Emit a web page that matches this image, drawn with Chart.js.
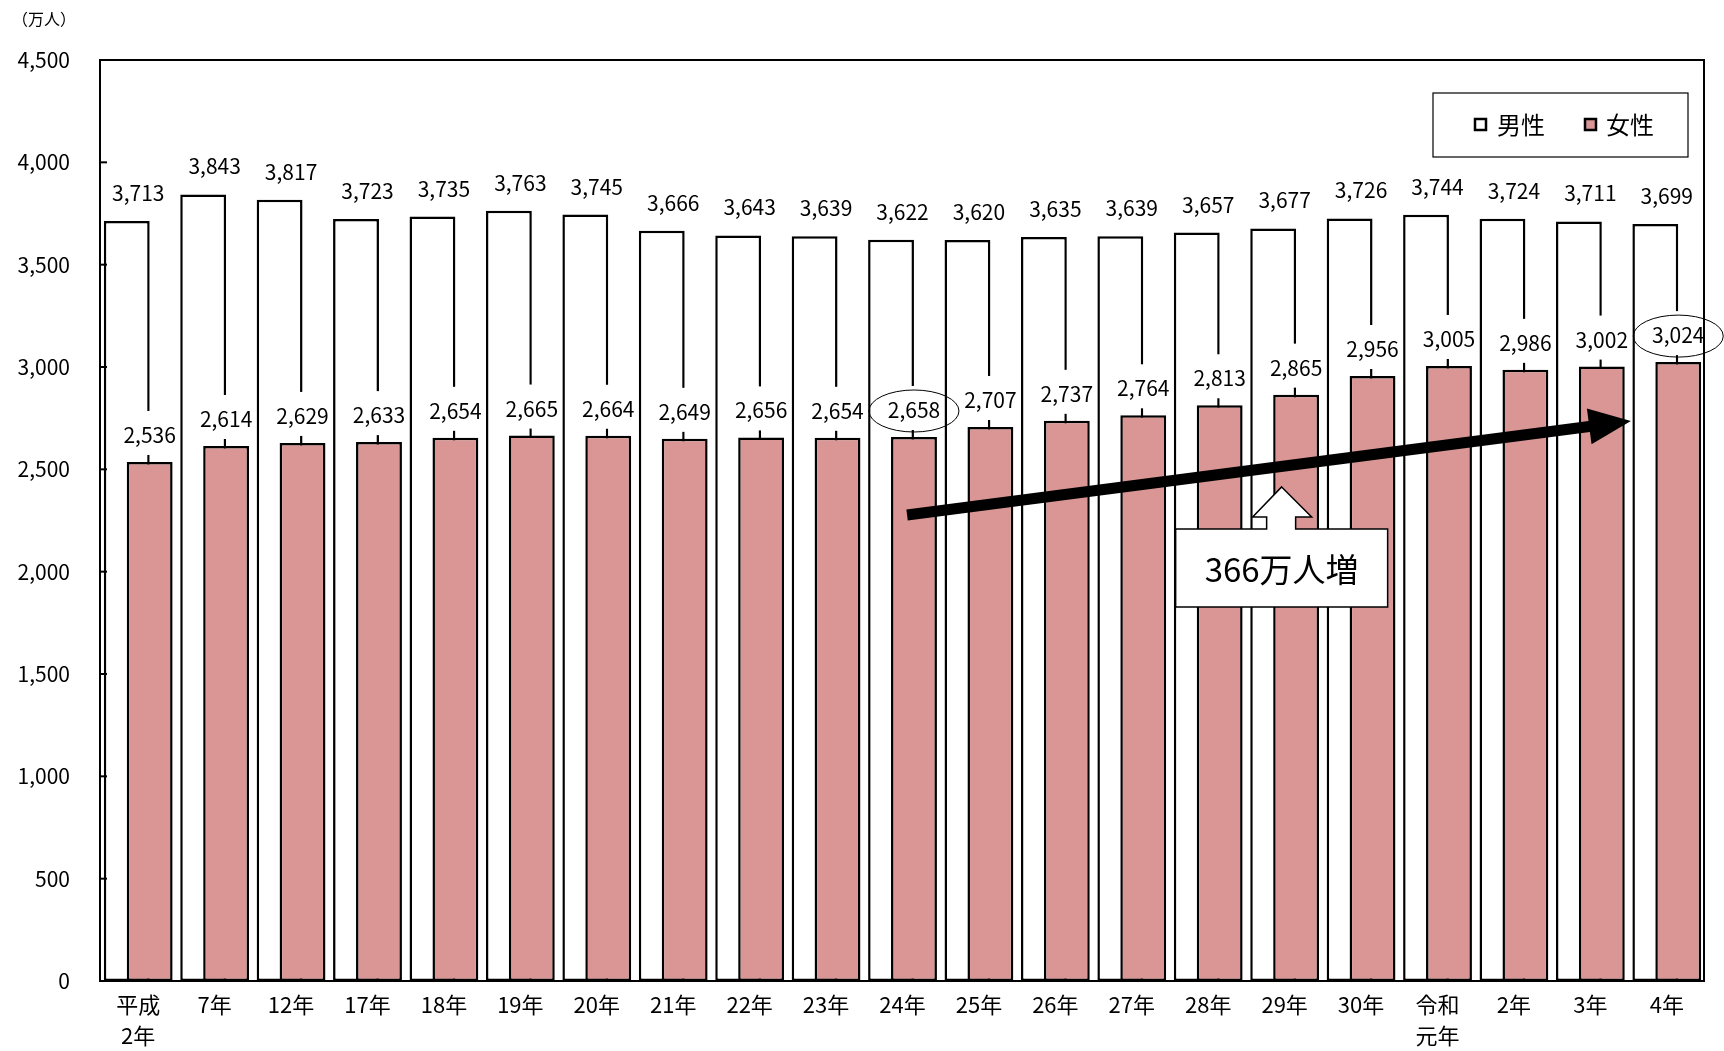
<!DOCTYPE html>
<html lang="ja">
<head>
<meta charset="UTF-8" />
<title>男女別人口</title>
<script src="https://cdn.jsdelivr.net/npm/chart.js"></script>
<style>
  html, body { margin: 0; padding: 0; background: #fff; }
  #wrap { width: 1724px; height: 1051px; position: relative; }
</style>
</head>
<body>
<div id="wrap"><canvas id="chart" width="1724" height="1051"></canvas></div>
<script>
// data (万人)
const categories = [['平成', '2年'], '7年', '12年', '17年', '18年', '19年', '20年', '21年', '22年', '23年',
    '24年', '25年', '26年', '27年', '28年', '29年', '30年', ['令和', '元年'], '2年', '3年', '4年'];
const male = [3713, 3843, 3817, 3723, 3735, 3763, 3745, 3666, 3643, 3639, 3622,
    3620, 3635, 3639, 3657, 3677, 3726, 3744, 3724, 3711, 3699];
const female = [2536, 2614, 2629, 2633, 2654, 2665, 2664, 2649, 2656, 2654, 2658,
    2707, 2737, 2764, 2813, 2865, 2956, 3005, 2986, 3002, 3024];
const circled = [10, 20];
const seriesNames = ['男性', '女性'];
const increaseText = '366万人増';

const FONT = "'Noto Sans CJK JP', 'Noto Sans', sans-serif";
const PINK = '#D99694';
const SHIFT = 0.15; // half overlap of the two bars

Chart.defaults.font.family = FONT;
Chart.defaults.color = '#000';

const fmt = (v) => v.toLocaleString('en-US');

const decor = {
    id: 'decor',
    afterDatasetsDraw(chart) {
        const { ctx, chartArea: a, scales } = chart;
        const xs = scales.xb, ys = scales.y;
        ctx.save();

        ctx.font = '21px ' + FONT;
        ctx.textAlign = 'center';
        ctx.textBaseline = 'alphabetic';
        ctx.fillStyle = '#000';

        // male labels, centred over the category
        male.forEach((v, i) => {
            const x = xs.getPixelForValue(i);
            const y = ys.getPixelForValue(v) - 20;
            ctx.fillText(fmt(v), x, y);
        });
        // female labels with white backing (cuts the male bar edge)
        female.forEach((v, i) => {
            const x = xs.getPixelForValue(i + SHIFT);
            const y = ys.getPixelForValue(v) - 19;
            const w = ctx.measureText(fmt(v)).width;
            ctx.fillStyle = '#fff';
            ctx.fillRect(x - w / 2 - 3, y - 32, w + 6, 44);
            ctx.fillStyle = '#000';
            ctx.fillText(fmt(v), x, y);
        });

        // plot frame + inner ticks
        ctx.strokeStyle = '#000';
        ctx.lineWidth = 2;
        ctx.strokeRect(a.left, a.top, a.right - a.left - 1, a.bottom - a.top);
        ys.ticks.forEach((t) => {
            const y = ys.getPixelForValue(t.value);
            ctx.beginPath();
            ctx.moveTo(a.left, y);
            ctx.lineTo(a.left + 7, y);
            ctx.stroke();
        });

        // ellipses around highlighted values
        ctx.lineWidth = 1;
        circled.forEach((i) => {
            const x = xs.getPixelForValue(i + SHIFT);
            const y = ys.getPixelForValue(female[i]) - 26;
            ctx.beginPath();
            ctx.ellipse(x, y, 45, 21, 0, 0, Math.PI * 2);
            ctx.stroke();
        });

        // big trend arrow
        const x1 = xs.getPixelForValue(10.06), y1 = ys.getPixelForValue(2277);
        const x2 = xs.getPixelForValue(19.53), y2 = ys.getPixelForValue(2736);
        const ang = Math.atan2(y2 - y1, x2 - x1);
        const headLen = 42, headHalf = 18;
        const bx = x2 - headLen * Math.cos(ang), by = y2 - headLen * Math.sin(ang);
        ctx.lineWidth = 11;
        ctx.beginPath();
        ctx.moveTo(x1, y1);
        ctx.lineTo(bx + 2 * Math.cos(ang), by + 2 * Math.sin(ang));
        ctx.stroke();
        ctx.beginPath();
        ctx.moveTo(x2, y2);
        ctx.lineTo(bx + headHalf * Math.sin(ang), by - headHalf * Math.cos(ang));
        ctx.lineTo(bx - headHalf * Math.sin(ang), by + headHalf * Math.cos(ang));
        ctx.closePath();
        ctx.fillStyle = '#000';
        ctx.fill();

        // callout box with up arrow
        const tx = xs.getPixelForValue(15) - 3, ty = ys.getPixelForValue(2414);
        const pts = [
            [tx, ty], [tx + 30, ty + 30], [tx + 14, ty + 30], [tx + 14, ty + 42],
            [tx + 106, ty + 42], [tx + 106, ty + 120], [tx - 106, ty + 120],
            [tx - 106, ty + 42], [tx - 15, ty + 42], [tx - 15, ty + 30], [tx - 29, ty + 30]
        ];
        ctx.beginPath();
        pts.forEach((p, k) => (k ? ctx.lineTo(p[0], p[1]) : ctx.moveTo(p[0], p[1])));
        ctx.closePath();
        ctx.fillStyle = '#fff';
        ctx.fill();
        ctx.lineWidth = 1.5;
        ctx.stroke();
        ctx.fillStyle = '#000';
        ctx.font = '33px ' + FONT;
        ctx.textBaseline = 'middle';
        ctx.fillText(increaseText, tx, ty + 83);

        // legend box
        ctx.lineWidth = 1.2;
        ctx.strokeRect(1433, 93, 255, 64);
        ctx.font = '24px ' + FONT;
        ctx.textAlign = 'left';
        [[1475, '#fff', seriesNames[0], 1497], [1585, PINK, seriesNames[1], 1606]].forEach(([sx, col, name, lx]) => {
            ctx.fillStyle = col;
            ctx.fillRect(sx, 119, 11, 11);
            ctx.lineWidth = 2.5;
            ctx.strokeRect(sx, 119, 11, 11);
            ctx.fillStyle = '#000';
            ctx.fillText(name, lx, 125);
        });

        // unit label
        ctx.font = '16px ' + FONT;
        ctx.fillText('（万人）', 12, 19);
        ctx.restore();
    }
};

const ctx = document.getElementById('chart').getContext('2d');
new Chart(ctx, {
    type: 'bar',
    data: {
        labels: categories,
        datasets: [
            {
                label: seriesNames[0],
                data: male.map((v, i) => ({ x: i - SHIFT, y: v })),
                xAxisID: 'xb',
                backgroundColor: '#fff',
                borderColor: '#000',
                borderWidth: 2.5,
                borderSkipped: false,
                order: 2,
            },
            {
                label: seriesNames[1],
                data: female.map((v, i) => ({ x: i + SHIFT, y: v })),
                xAxisID: 'xb',
                backgroundColor: PINK,
                borderColor: '#000',
                borderWidth: 2.5,
                borderSkipped: false,
                order: 1,
            },
        ],
    },
    options: {
        responsive: false,
        devicePixelRatio: 1,
        animation: false,
        grouped: false,
        barPercentage: 2,
        categoryPercentage: 1,
        layout: { padding: { top: 60, right: 19, left: 0, bottom: 0 } },
        plugins: { legend: { display: false }, tooltip: { enabled: false } },
        scales: {
            x: {
                type: 'category',
                offset: true,
                grid: { display: false },
                border: { display: false },
                ticks: { autoSkip: false, maxRotation: 0, padding: 0, font: { size: 22, lineHeight: 1.42 } },
                afterFit: (s) => { s.height = 70; },
            },
            xb: {
                type: 'linear',
                display: false,
                min: -0.5,
                max: categories.length - 0.5,
                afterBuildTicks: (s) => { s.ticks = []; },
            },
            y: {
                min: 0,
                max: 4500,
                grid: { display: false, drawTicks: false },
                border: { display: false },
                ticks: { stepSize: 500, padding: 30, font: { size: 21 }, callback: (v) => fmt(v) },
                afterFit: (s) => { s.width = 100; },
            },
        },
    },
    plugins: [decor],
});
</script>
</body>
</html>
